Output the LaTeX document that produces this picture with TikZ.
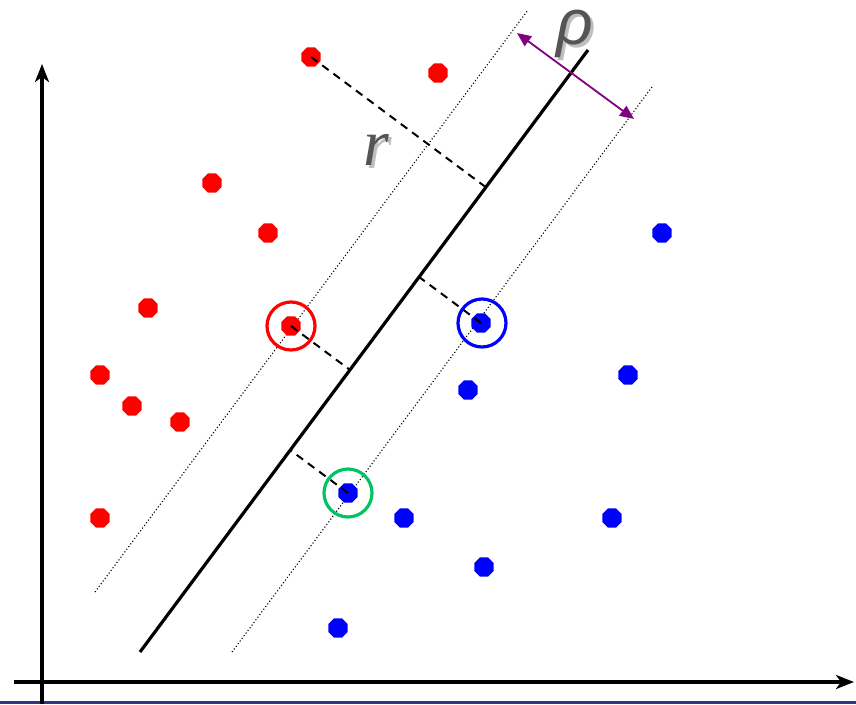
\documentclass[tikz,border=0pt]{standalone}
\usepackage{fontspec}
\setmainfont{Liberation Serif}
\newfontfamily\sansf{Liberation Sans}
\usetikzlibrary{arrows.meta,shapes.geometric,calc}
\definecolor{navybar}{RGB}{51,51,140}
\definecolor{svgreen}{RGB}{0,196,100}
\definecolor{lblgray}{RGB}{85,85,85}
\definecolor{shgray}{RGB}{190,190,190}
\definecolor{arrpurple}{RGB}{128,0,128}
\newcommand{\shadowed}[1]{\makebox[0pt][l]{\hspace{3pt}\raisebox{-3pt}{\textcolor{shgray}{#1}}}\textcolor{lblgray}{#1}}
\tikzset{
  redpt/.style={regular polygon,regular polygon sides=8,minimum size=21pt,inner sep=0pt,fill=red,draw=none},
  bluept/.style={regular polygon,regular polygon sides=8,minimum size=21pt,inner sep=0pt,fill=blue,draw=none},
  axis/.style={line width=4pt,-{Stealth[length=18pt,width=14pt,inset=5pt]}},
  hyper/.style={line width=3.2pt},
  margin/.style={line width=1.1pt,dash pattern=on 1.1pt off 2.2pt},
  dist/.style={line width=2pt,dash pattern=on 8pt off 6pt},
  ring/.style={circle,minimum size=48pt,inner sep=0pt,line width=3.2pt,fill=none},
  lbl/.style={inner sep=0pt},
  rho/.style={line width=1.8pt,draw=arrpurple,{Triangle[length=14pt,width=12pt]}-{Triangle[length=14pt,width=12pt]}}
}
\begin{document}
\begin{tikzpicture}[x=1pt,y=-1pt]
\useasboundingbox (0,0) rectangle (856,704);
% bottom bar
\fill[navybar] (0,700.5) rectangle (856,704);
% axes
\coordinate (yb) at (42,704);
\coordinate (yt) at (42,64);
\coordinate (xl) at (14,682);
\coordinate (xr) at (854,682);
\draw[axis] (yb) -- (yt);
\draw[axis] (xl) -- (xr);
% hyperplane and margins
\coordinate (m1) at (140,652);
\coordinate (m2) at (588,50);
\coordinate (l1) at (95,592);
\coordinate (l2) at (528,10);
\coordinate (r1) at (232,652);
\coordinate (r2) at (652,87);
\draw[hyper] (m1) -- (m2);
\draw[margin] (l1) -- (l2);
\draw[margin] (r1) -- (r2);
% red points
\node[redpt] (a1) at (311,57) {};
\node[redpt] (a2) at (438,73) {};
\node[redpt] (a3) at (212,183) {};
\node[redpt] (a4) at (268,233) {};
\node[redpt] (a5) at (148,308) {};
\node[redpt] (a6) at (291,326) {};
\node[redpt] (a7) at (100,375) {};
\node[redpt] (a8) at (132,406) {};
\node[redpt] (a9) at (180,422) {};
\node[redpt] (a10) at (100,518) {};
% blue points
\node[bluept] (b1) at (662,233) {};
\node[bluept] (b2) at (481,323) {};
\node[bluept] (b3) at (628,375) {};
\node[bluept] (b4) at (468,390) {};
\node[bluept] (b5) at (348,493) {};
\node[bluept] (b6) at (404,518) {};
\node[bluept] (b7) at (612,518) {};
\node[bluept] (b8) at (484,567) {};
\node[bluept] (b9) at (338,628) {};
% feet of perpendiculars
\coordinate (f1) at ($(m1)!(a1)!(m2)$);
\coordinate (f2) at ($(m1)!(a6)!(m2)$);
\coordinate (f3) at ($(m1)!(b2)!(m2)$);
\coordinate (f4) at ($(m1)!(b5)!(m2)$);
\draw[dist] (a1.center) -- (f1);
\draw[dist] (a6.center) -- (f2);
\draw[dist] (b2.center) -- (f3);
\draw[dist] (b5.center) -- (f4);
% support vector rings
\node[ring,draw=red] (c1) at (291,326) {};
\node[ring,draw=blue] (c2) at (482,323) {};
\node[ring,draw=svgreen] (c3) at (348,493) {};
% margin arrow
\coordinate (ra) at (517,33);
\coordinate (rb) at (634,119);
\draw[rho] (ra) -- (rb);
% labels
\node[lbl] (r) at (376,151) {\fontsize{66}{66}\selectfont\itshape\shadowed{r}};
\node[lbl] (p) at (575,35) {\sansf\fontsize{64}{64}\selectfont\itshape\shadowed{ρ}};
\end{tikzpicture}
\end{document}
